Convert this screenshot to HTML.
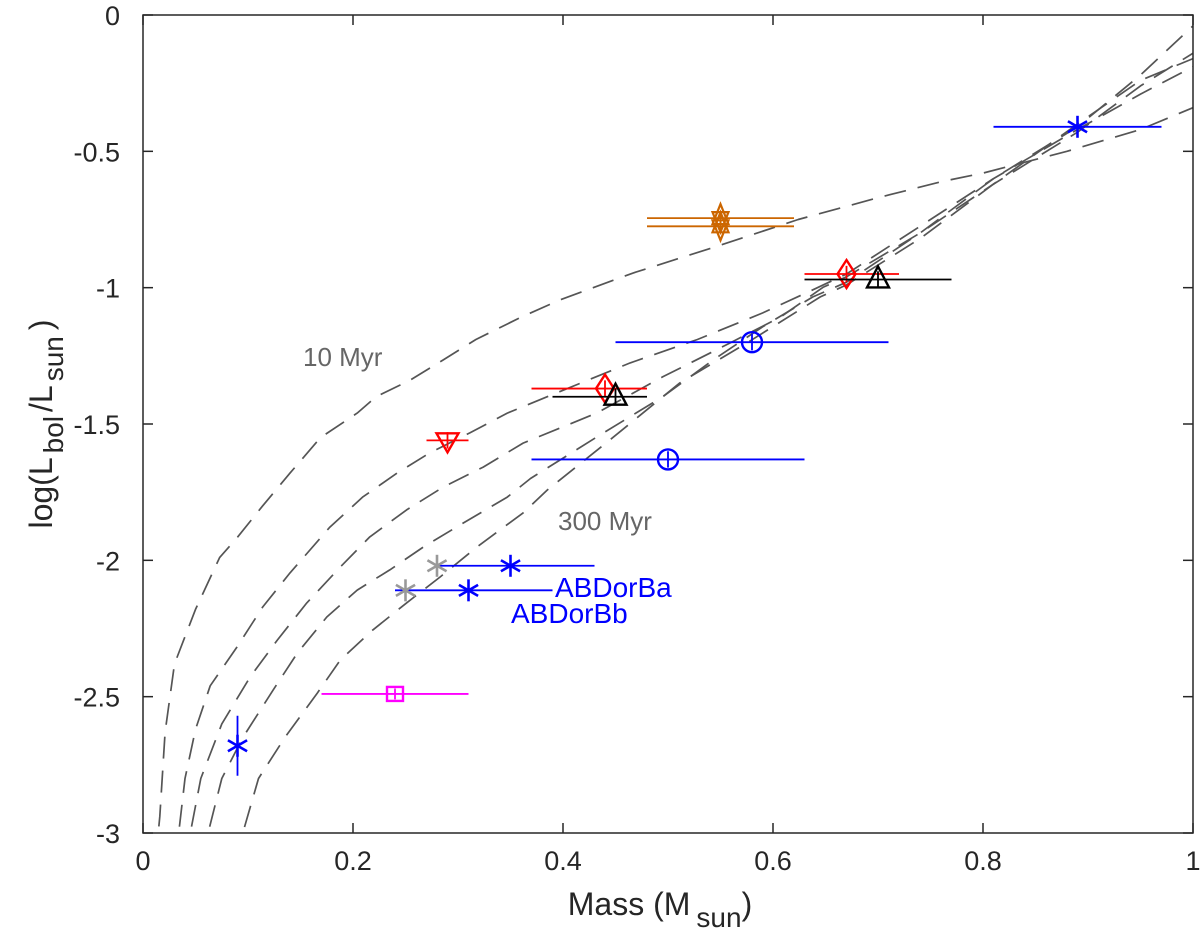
<!DOCTYPE html>
<html><head><meta charset="utf-8"><style>
html,body{margin:0;padding:0;background:#fff;}
svg{display:block;font-family:"Liberation Sans",Arial,sans-serif;}
</style></head><body>
<svg id="chart" width="1200" height="952" viewBox="0 0 1200 952" xmlns="http://www.w3.org/2000/svg">
<defs><clipPath id="clip"><rect x="143" y="15" width="1050" height="818"/></clipPath></defs>
<rect x="0" y="0" width="1200" height="952" fill="#fff"/>
<g id="curves" clip-path="url(#clip)"></g>
<g id="points"></g>
<rect x="143" y="15" width="1050" height="818" fill="none" stroke="#262626" stroke-width="1.5"/>
<g id="axes"></g>
<text x="303" y="366" font-size="26" fill="#666">10 Myr</text>
<text x="558" y="530" font-size="26" fill="#666">300 Myr</text>
<text x="555" y="597" font-size="28" fill="#0000ff">ABDorBa</text>
<text x="511" y="623" font-size="28" fill="#0000ff">ABDorBb</text>
<text x="660" y="915" font-size="32" fill="#262626" text-anchor="middle">Mass (M<tspan font-size="28" dx="6" dy="12">sun</tspan><tspan dy="-12">)</tspan></text>
<text transform="translate(52,424) rotate(-90)" font-size="32" fill="#262626" text-anchor="middle">log(L<tspan font-size="28" dx="4" dy="11">bol</tspan><tspan dx="4" dy="-11">/L</tspan><tspan font-size="28" dx="4" dy="11">sun</tspan><tspan dx="6" dy="-11">)</tspan></text>
<script>
const xTicks=[0,0.2,0.4,0.6,0.8,1];
const xTickLabels=["0","0.2","0.4","0.6","0.8","1"];
const yTicks=[0,-0.5,-1,-1.5,-2,-2.5,-3];
const yTickLabels=["0","-0.5","-1","-1.5","-2","-2.5","-3"];
const iso1M=[0.012,0.016,0.021,0.030,0.050,0.073,0.090,0.114,0.140,0.169,0.204,0.222,0.254,0.286,0.317,0.359,0.397,0.467,0.545,0.624,0.703,0.762,0.80,0.88,0.95,1.0];
const iso1L=[-3.1,-2.94,-2.63,-2.38,-2.18,-1.99,-1.915,-1.80,-1.68,-1.55,-1.46,-1.40,-1.34,-1.265,-1.19,-1.11,-1.045,-0.946,-0.85,-0.75,-0.667,-0.61,-0.58,-0.50,-0.42,-0.34];
const iso2M=[0.030,0.034,0.040,0.050,0.064,0.0895,0.114,0.140,0.178,0.2095,0.242,0.273,0.311,0.347,0.385,0.464,0.528,0.590,0.638,0.67,0.75,0.81,0.89,0.95,1.0];
const iso2L=[-3.1,-3.0,-2.80,-2.62,-2.46,-2.318,-2.171,-2.046,-1.878,-1.767,-1.68,-1.606,-1.533,-1.46,-1.40,-1.276,-1.19,-1.093,-1.008,-0.95,-0.75,-0.60,-0.42,-0.29,-0.19];
const iso3M=[0.042,0.045,0.055,0.075,0.102,0.128,0.156,0.188,0.216,0.251,0.286,0.324,0.362,0.432,0.495,0.559,0.607,0.648,0.67,0.74,0.81,0.89,0.95,1.0];
const iso3L=[-3.1,-3.0,-2.80,-2.60,-2.428,-2.292,-2.156,-2.024,-1.914,-1.815,-1.731,-1.658,-1.57,-1.46,-1.327,-1.203,-1.108,-0.998,-0.96,-0.80,-0.62,-0.43,-0.26,-0.14];
const iso4M=[0.059,0.062,0.075,0.095,0.124,0.147,0.175,0.204,0.235,0.267,0.305,0.347,0.369,0.432,0.495,0.543,0.590,0.638,0.67,0.74,0.81,0.89,0.95,1.0];
const iso4L=[-3.1,-3.0,-2.80,-2.65,-2.475,-2.34,-2.208,-2.109,-2.035,-1.951,-1.863,-1.768,-1.70,-1.548,-1.40,-1.265,-1.144,-1.034,-0.98,-0.80,-0.60,-0.41,-0.22,-0.04];
const iso5M=[0.090,0.095,0.110,0.135,0.166,0.188,0.219,0.251,0.283,0.318,0.362,0.385,0.448,0.511,0.575,0.645,0.67,0.74,0.81,0.89,0.95,1.0];
const iso5L=[-3.1,-3.0,-2.80,-2.65,-2.487,-2.365,-2.255,-2.156,-2.061,-1.951,-1.826,-1.742,-1.548,-1.35,-1.203,-1.034,-0.99,-0.82,-0.62,-0.40,-0.24,-0.16];
const ptMass=[0.55,0.55,0.67,0.70,0.44,0.45,0.58,0.50,0.29,0.89,0.35,0.28,0.31,0.25,0.24,0.09];
const ptLum=[-0.745,-0.775,-0.95,-0.97,-1.37,-1.40,-1.20,-1.63,-1.56,-0.41,-2.02,-2.02,-2.11,-2.11,-2.49,-2.68];
const ptMassLo=[0.48,0.48,0.63,0.63,0.37,0.39,0.45,0.37,0.27,0.81,0.28,0.28,0.24,0.25,0.17,0.09];
const ptMassHi=[0.62,0.62,0.72,0.77,0.48,0.48,0.71,0.63,0.31,0.97,0.43,0.28,0.39,0.25,0.31,0.09];
const ptLumErr=[0.02,0.02,0.03,0.03,0.03,0.03,0.03,0.03,0.03,0.02,0.02,0,0.02,0,0.02,0.11];
const ptMarker=["hex","hex","diamond","triangle","diamond","triangle","circle","circle","downtri","star","star","star","star","star","square","star"];
const ptColor=["#cc6600","#cc6600","#ff0000","#000000","#ff0000","#000000","#0000ff","#0000ff","#ff0000","#0000ff","#0000ff","#999999","#0000ff","#999999","#ff00ff","#0000ff"];

const NS="http://www.w3.org/2000/svg";
const X=m=>143+m*1050;
const Y=l=>15-l*(818/3);
function mk(tag,attrs,parent){const e=document.createElementNS(NS,tag);for(const k in attrs)e.setAttribute(k,attrs[k]);parent.appendChild(e);return e;}
const axes=document.getElementById('axes');
xTicks.forEach((t,i)=>{
  const l=mk('line',{x1:X(t),x2:X(t),y1:833,y2:823,stroke:'#262626','stroke-width':1.5},axes);
  
  
  const l2=mk('line',{x1:X(t),x2:X(t),y1:15,y2:25,stroke:'#262626','stroke-width':1.5},axes);
  
  
  const tx=mk('text',{x:X(t),y:870,'font-size':27,fill:'#262626','text-anchor':'middle'},axes);
  tx.textContent=xTickLabels[i];
  
  
});
yTicks.forEach((t,i)=>{
  const l=mk('line',{x1:143,x2:153,y1:Y(t),y2:Y(t),stroke:'#262626','stroke-width':1.5},axes);
  
  
  const l2=mk('line',{x1:1193,x2:1183,y1:Y(t),y2:Y(t),stroke:'#262626','stroke-width':1.5},axes);
  
  
  const tx=mk('text',{x:120,y:Y(t)+10,'font-size':27,fill:'#262626','text-anchor':'end'},axes);
  tx.textContent=yTickLabels[i];
  
  
});
const cg=document.getElementById('curves');
[[iso1M,iso1L],[iso2M,iso2L],[iso3M,iso3L],[iso4M,iso4L],[iso5M,iso5L]].forEach((c,i)=>{
  const d=c[0].map((m,j)=>(j?'L':'M')+X(m).toFixed(1)+' '+Y(c[1][j]).toFixed(1)).join(' ');
  const p=mk('path',{d:d,fill:'none',stroke:'#555','stroke-width':1.7,'stroke-dasharray':'22 12','stroke-linejoin':'round'},cg);
  
  
});
const pg=document.getElementById('points');
ptMass.forEach((m,i)=>{
  const g=mk('g',{stroke:ptColor[i],fill:'none','stroke-width':1.8},pg);
  
  
  const cx=X(m),cy=Y(ptLum[i]);
  mk('line',{x1:X(ptMassLo[i]),x2:X(ptMassHi[i]),y1:cy,y2:cy},g);
  if(ptLumErr[i]>0)mk('line',{x1:cx,x2:cx,y1:Y(ptLum[i]+ptLumErr[i]),y2:Y(ptLum[i]-ptLumErr[i])},g);
  const s=ptMarker[i];
  if(s==='circle')mk('circle',{cx:cx,cy:cy,r:10,'stroke-width':2.4},g);
  else if(s==='diamond')mk('polygon',{points:`${cx},${cy-14} ${cx+9},${cy} ${cx},${cy+14} ${cx-9},${cy}`,'stroke-width':2.4},g);
  else if(s==='triangle')mk('polygon',{points:`${cx},${cy-13} ${cx+11},${cy+8} ${cx-11},${cy+8}`,'stroke-width':2.4},g);
  else if(s==='downtri')mk('polygon',{points:`${cx},${cy+12} ${cx+11},${cy-7} ${cx-11},${cy-7}`,'stroke-width':2.4},g);
  else if(s==='square')mk('rect',{x:cx-8,y:cy-7,width:16,height:14,'stroke-width':2.4},g);
  else if(s==='hex'){
    mk('polygon',{points:`${cx},${cy-14} ${cx+8},${cy+6} ${cx-8},${cy+6}`,'stroke-width':2.2},g);
    mk('polygon',{points:`${cx},${cy+14} ${cx+8},${cy-6} ${cx-8},${cy-6}`,'stroke-width':2.2},g);
  } else {
    const r=11;
    mk('line',{x1:cx,x2:cx,y1:cy-r,y2:cy+r,'stroke-width':2.6},g);
    mk('line',{x1:cx-r*0.87,x2:cx+r*0.87,y1:cy-r*0.5,y2:cy+r*0.5,'stroke-width':2.6},g);
    mk('line',{x1:cx-r*0.87,x2:cx+r*0.87,y1:cy+r*0.5,y2:cy-r*0.5,'stroke-width':2.6},g);
  }
});
</script>
</svg>
</body></html>
